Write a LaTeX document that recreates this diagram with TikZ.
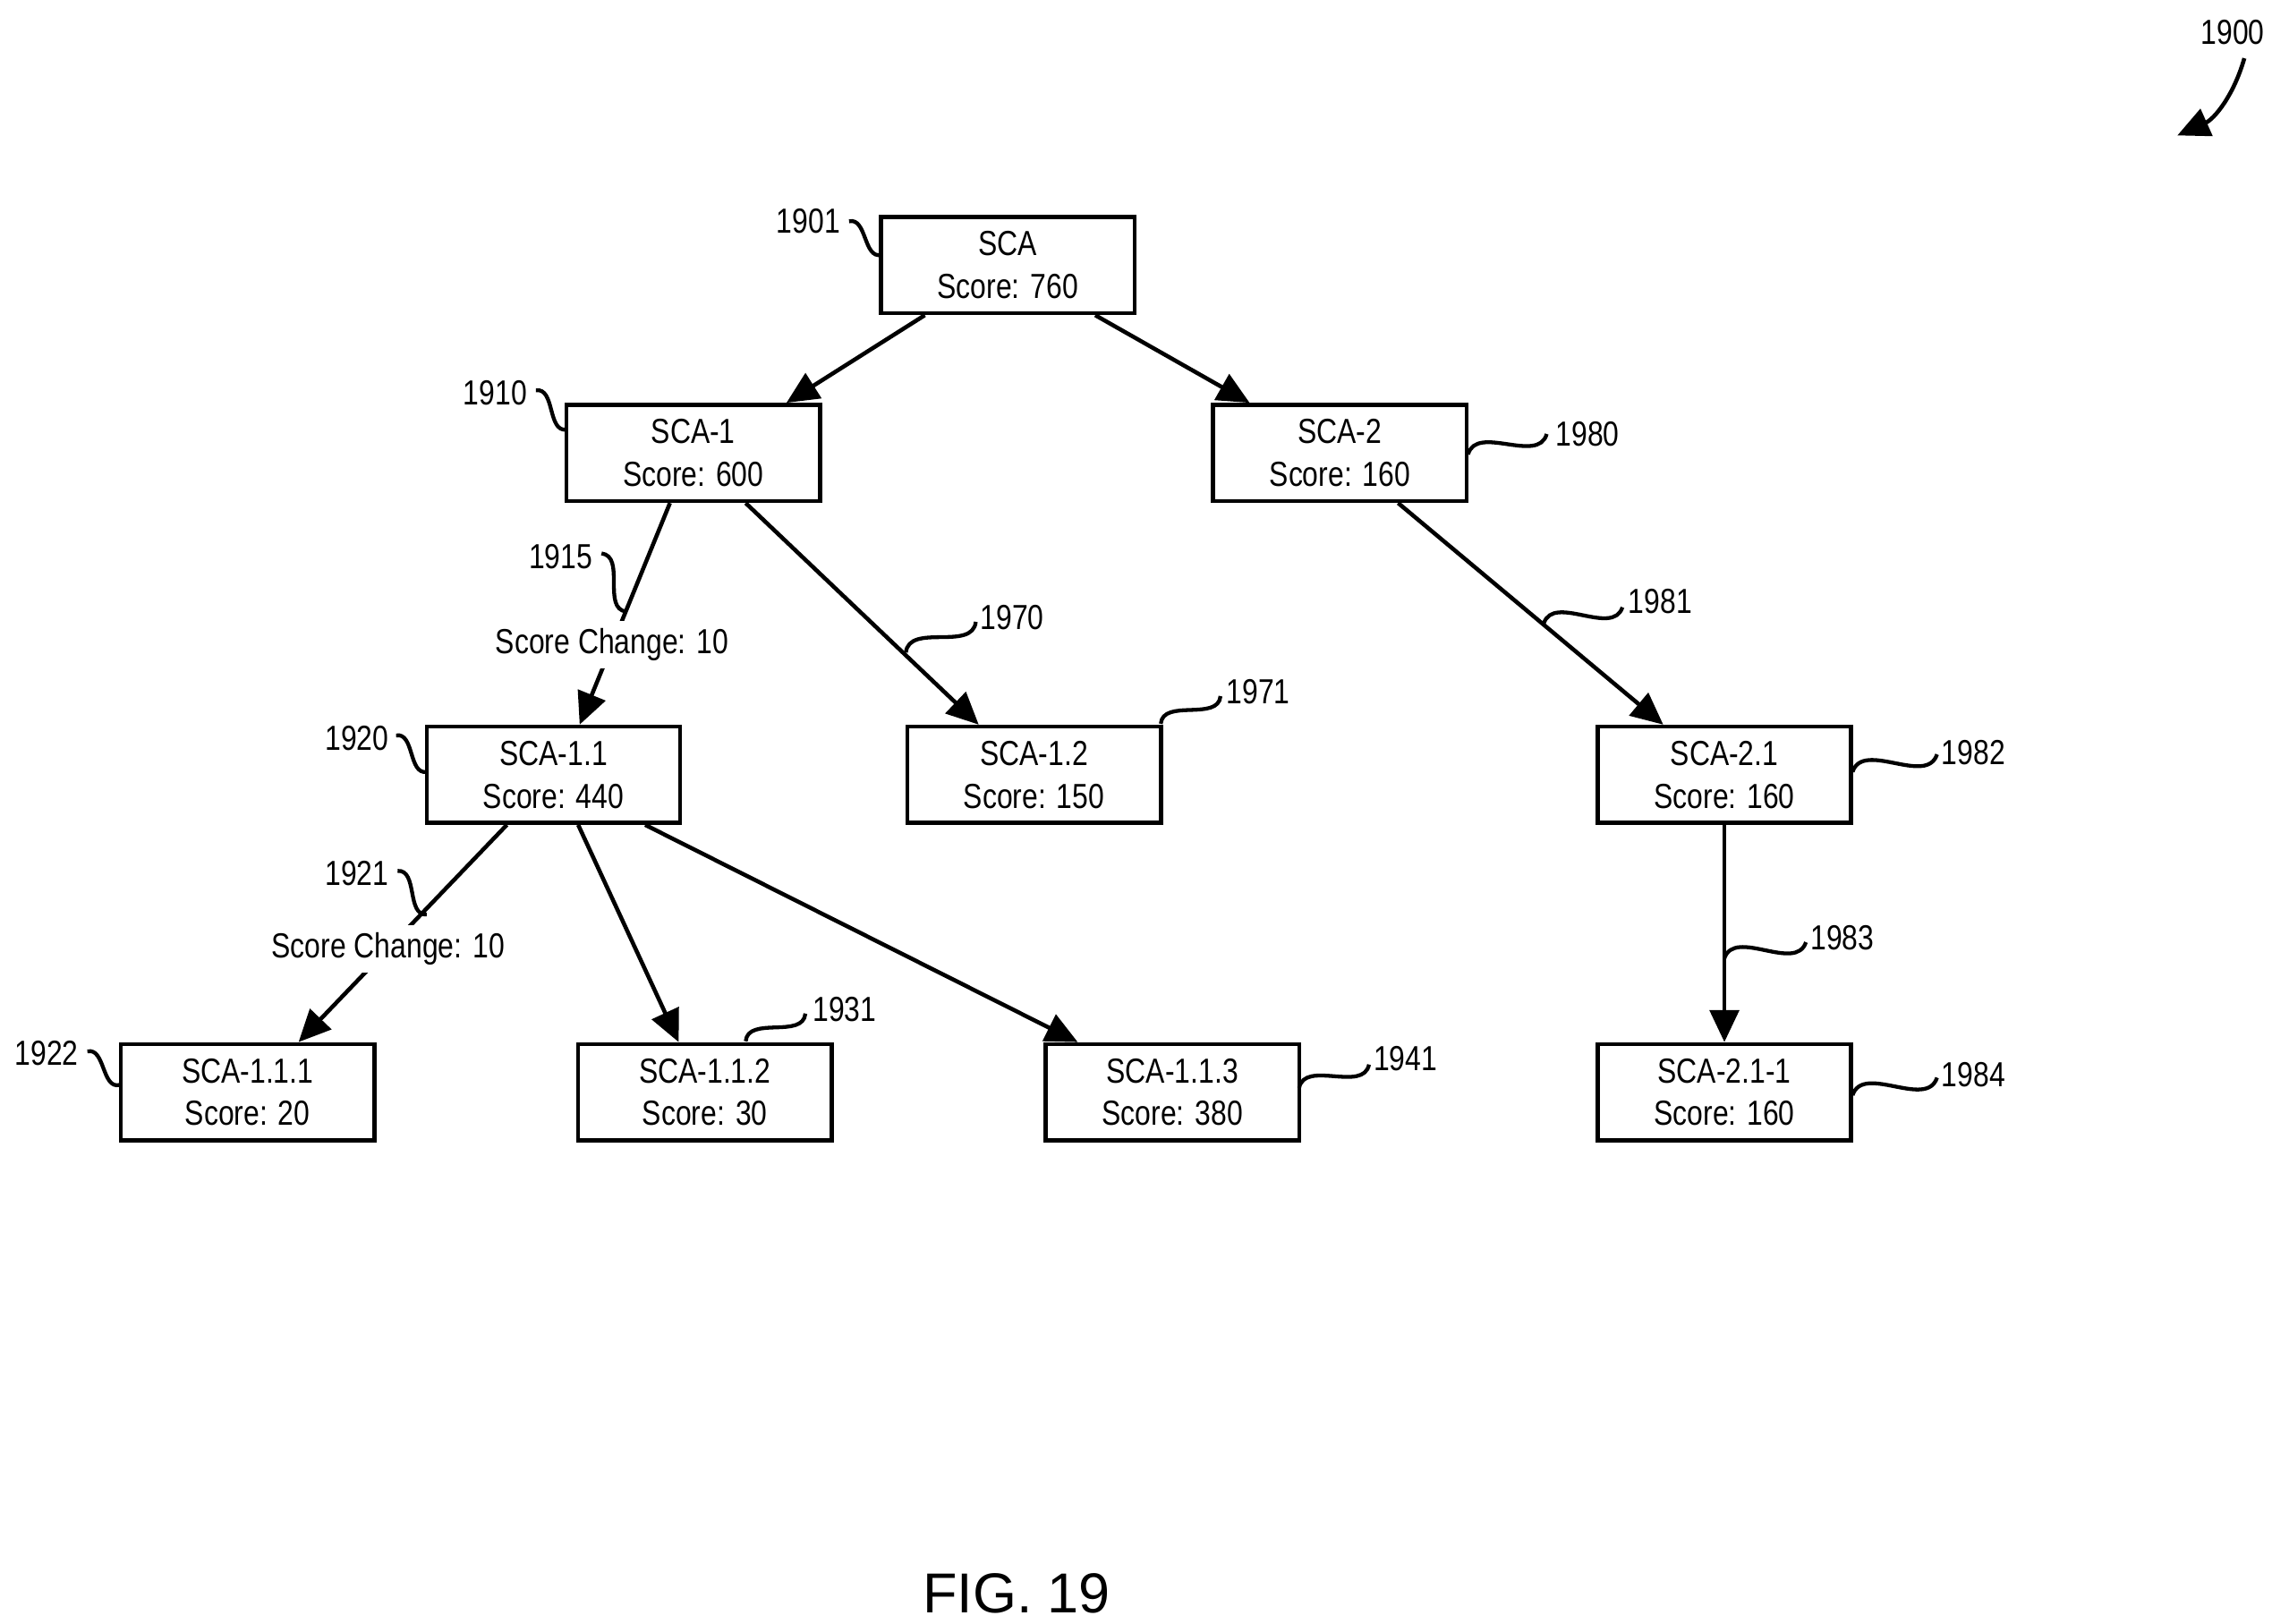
\documentclass[tikz,border=0pt]{standalone}
\usepackage{fontspec}
\setmainfont{Liberation Sans}
\newfontfamily\narrowfont{Liberation Sans}[FakeStretch=0.82]
\usetikzlibrary{arrows.meta,positioning,calc}

\begin{document}
\begin{tikzpicture}[
    x=0.01cm, y=-0.01cm,
    box/.style={rectangle, draw=black, line width=0.8pt, minimum width=1.74cm, minimum height=0.66cm,
                align=center, inner sep=0pt, font=\narrowfont\fontsize{6.8}{8.3}\selectfont},
    link/.style={-{Triangle[length=2.2mm,width=2mm]}, line width=0.8pt},
    ref/.style={font=\narrowfont\fontsize{6.8}{8}\selectfont, inner sep=1pt},
    lbl/.style={font=\narrowfont\fontsize{6.8}{8}\selectfont, fill=white, inner sep=1.5pt},
    squig/.style={line width=0.75pt},
]
    \useasboundingbox (0,0) rectangle (1560,1115);

    % tree boxes
    \node[box] (sca)   at (692,182) {SCA\\Score: 760};
    \node[box] (sca1)  at (476,311) {SCA-1\\Score: 600};
    \node[box] (sca2)  at (920,311) {SCA-2\\Score: 160};
    \node[box] (sca11) at (380,532) {SCA-1.1\\Score: 440};
    \node[box] (sca12) at (710,532) {SCA-1.2\\Score: 150};
    \node[box] (sca21) at (1184,532) {SCA-2.1\\Score: 160};
    \node[box] (sca111) at (170,750) {SCA-1.1.1\\Score: 20};
    \node[box] (sca112) at (484,750) {SCA-1.1.2\\Score: 30};
    \node[box] (sca113) at (805,750) {SCA-1.1.3\\Score: 380};
    \node[box] (sca211) at (1184,750) {SCA-2.1-1\\Score: 160};

    % connectors
    \draw[link] ($(sca.south)+(-57,0)$) -- ($(sca1.north)+(64,0)$);
    \draw[link] ($(sca.south)+(60,0)$) -- ($(sca2.north)+(-62,0)$);
    \draw[link] ($(sca1.south)+(-16,0)$) -- node[lbl, pos=0.64] (sc1) {Score Change: 10} ($(sca11.north)+(18,0)$);
    \draw[link] ($(sca1.south)+(36,0)$) -- ($(sca12.north)+(-38,0)$);
    \draw[link] ($(sca2.south)+(40,0)$) -- ($(sca21.north)+(-42,0)$);
    \draw[link] ($(sca11.south)+(-32,0)$) -- node[lbl, pos=0.57] (sc2) {Score Change: 10} ($(sca111.north)+(35,0)$);
    \draw[link] ($(sca11.south)+(17,0)$) -- ($(sca112.north)+(-18,0)$);
    \draw[link] ($(sca11.south)+(63,0)$) -- ($(sca113.north)+(-65,0)$);
    \draw[link] (sca21.south) -- (sca211.north);

    % reference numerals with squiggle leaders
    \foreach \num/\tx/\ty/\ax/\ay/\bx/\by in {
        1901/555/152/583/152/605/175,
        1910/340/270/368/268/389/295,
        1980/1090/298/1062/298/1008/312,
        1915/385/382/413/380/430/420,
        1970/695/424/670/427/622/448,
        1971/864/475/838/478/797/497,
        1981/1140/413/1114/417/1060/428,
        1920/245/507/272/505/293/530,
        1982/1355/517/1330/518/1272/530,
        1921/245/600/273/598/293/628,
        1983/1265/644/1240/647/1184/658,
        1922/32/723/60/722/82/745,
        1931/580/693/553/696/512/715,
        1941/965/727/940/731/892/747,
        1984/1355/738/1330/740/1272/752} {
        \node[ref] (r\num) at (\tx,\ty) {\num};
        \coordinate (s\num) at (\ax,\ay);
        \coordinate (e\num) at (\bx,\by);
        \draw[squig] let \p1=($(e\num)-(s\num)$), \n1={atan2(\y1,\x1)} in
            (s\num) to[out=\n1+60, in=\n1+240] (e\num);
    }

    % figure numeral
    \node[ref] (r1900) at (1533,22) {1900};
    \coordinate (a1900) at (1495,93);
    \draw[-{Triangle[length=2.2mm,width=2mm]}, line width=0.8pt] (1541,40) to[bend left=25] (a1900);

    \node[font=\fontsize{11}{13}\selectfont] (fig) at (698,1094) {FIG. 19};
\end{tikzpicture}
\end{document}
